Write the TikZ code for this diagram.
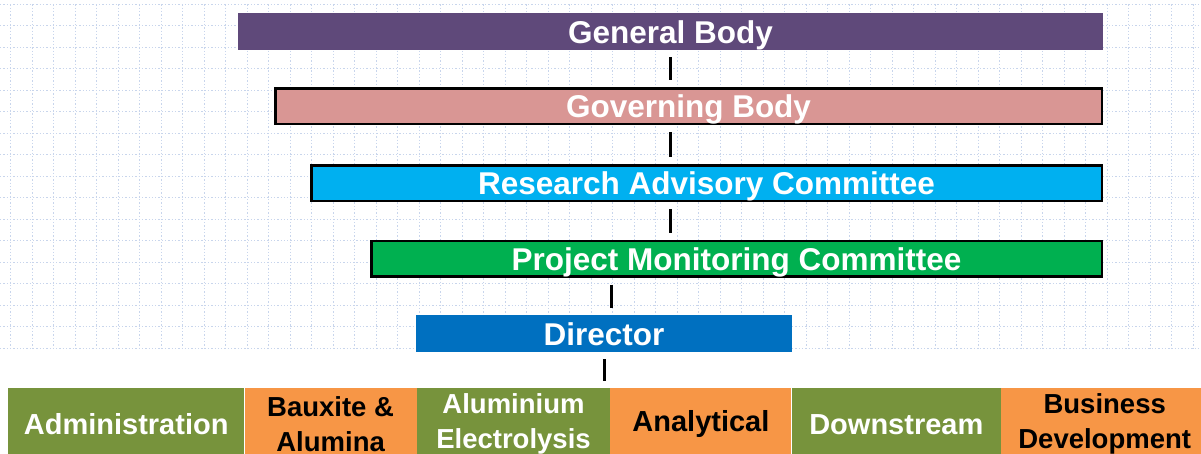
\documentclass[tikz,border=0pt]{standalone}
\usepackage{fontspec}
\setmainfont{Liberation Sans}
\usetikzlibrary{positioning}
\definecolor{bodypurple}{HTML}{5F497A}
\definecolor{bodyrose}{HTML}{D99694}
\definecolor{advisorycyan}{HTML}{00B0F0}
\definecolor{monitorgreen}{HTML}{00B050}
\definecolor{directorblue}{HTML}{0070C0}
\definecolor{unitgreen}{HTML}{77933C}
\definecolor{unitorange}{HTML}{F79646}
\definecolor{gridblue}{HTML}{C8D5EC}
\tikzstyle{board} = [rectangle, text=white, minimum height=37pt, inner sep=2pt,
    text height=23pt, text depth=0pt, font=\fontsize{31.5}{34}\selectfont\bfseries]
\tikzstyle{framed} = [board, draw=black, line width=2.5pt, minimum height=35.5pt]
\tikzstyle{unit} = [rectangle, minimum height=72pt, inner sep=2pt, align=center,
    font=\fontsize{29}{34}\selectfont\bfseries]
\tikzstyle{twoline} = [font=\fontsize{27.5}{35}\selectfont\bfseries]
\tikzstyle{greenunit} = [unit, fill=unitgreen, text=white]
\tikzstyle{orangeunit} = [unit, fill=unitorange, text=black]
\tikzstyle{link} = [draw, black, line width=3pt, shorten >=7pt, shorten <=7pt]
\tikzstyle{gridline} = [gridblue, line width=1.3pt, dash pattern=on 1.3pt off 2pt]

\begin{document}
\begin{tikzpicture}[x=1pt, y=-1pt]
    \useasboundingbox (0,0) rectangle (1201,453);
    \clip (0,0) rectangle (1201,453);
    % dotted paper grid behind the chart
    \foreach \gx in {0,...,55}
        \draw [gridline] (10.7+\gx*21.5,4.3) -- (10.7+\gx*21.5,348.3);
    \foreach \gy in {0,...,16}
        \draw [gridline] (0,4.3+\gy*21.5) -- (1201,4.3+\gy*21.5);

    % We start by placing the boards
    \node [board, fill=bodypurple, minimum width=865pt] (general) at (670.5,31.5) {General Body};
    \node [framed, fill=bodyrose, minimum width=826.5pt] (governing) at (688.5,106) {Governing Body};
    \node [framed, fill=advisorycyan, minimum width=790.5pt] (advisory) at (706.5,183) {Research Advisory Committee};
    \node [framed, fill=monitorgreen, minimum width=730.5pt] (monitoring) at (736.5,258.5) {Project Monitoring Committee};
    \node [board, fill=directorblue, minimum width=376pt] (director) at (604,333.5) {Director};

    % then the divisions, side by side
    \node [greenunit, anchor=north west, minimum width=236pt] (admin) at (8,388) {Administration};
    \node [orangeunit, twoline, minimum width=172pt] (bauxite) [right=0pt of admin] {Bauxite \&\\ Alumina};
    \node [greenunit, twoline, minimum width=193pt] (electro) [right=0pt of bauxite] {Aluminium\\ Electrolysis};
    \node [orangeunit, minimum width=181pt] (analytical) [right=0pt of electro] {Analytical};
    \node [greenunit, minimum width=209pt] (downstream) [right=0pt of analytical] {Downstream};
    \node [orangeunit, twoline, minimum width=207pt] (business) [right=0pt of downstream] {Business\\ Development};

    % Once the nodes are placed, connecting them is easy.
    \draw [link] (general.south) -- (governing.north -| general.south);
    \draw [link] (governing.south -| general.south) -- (advisory.north -| general.south);
    \draw [link] (advisory.south -| general.south) -- (monitoring.north -| general.south);
    \draw [link] ([xshift=7pt]director.north |- monitoring.south) -- ([xshift=7pt]director.north);
    \draw [link] (director.south) -- (director.south |- analytical.north);
\end{tikzpicture}
\end{document}
